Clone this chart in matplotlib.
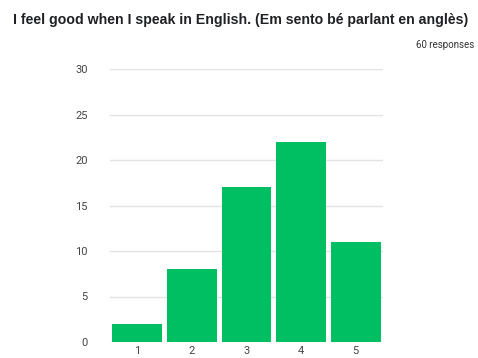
import matplotlib
matplotlib.use("Agg")
import matplotlib.pyplot as plt

categories = ["1", "2", "3", "4", "5"]
counts = [2, 8, 17, 22, 11]
yticks = [0, 5, 10, 15, 20, 25, 30]

title = "I feel good when I speak in English. (Em sento bé parlant en anglès)"
subtitle = "60 responses"

fig = plt.figure(figsize=(4.78, 3.58), dpi=100)
ax = fig.add_axes([110 / 478, 1 - 342 / 358, 273 / 478, 273 / 358])

x = list(range(1, len(categories) + 1))
ax.bar(x, counts, width=0.91, color="#00BF63", zorder=3)

ax.set_xlim(0.5, len(categories) + 0.5)
ax.set_ylim(0, 30)
ax.set_yticks(yticks)
ax.set_xticks(x)
ax.set_xticklabels(categories)
ax.grid(axis="y", color="#e3e3e3", linewidth=1, zorder=0)
for s in ax.spines.values():
    s.set_visible(False)
ax.tick_params(length=0, labelsize=8, labelcolor="#444444", pad=3)
ax.tick_params(axis="y", pad=16)
for lbl in ax.get_xticklabels() + ax.get_yticklabels():
    lbl.set_family("Roboto")

fig.text(13 / 478, 1 - 20 / 358, title, fontsize=10.2, fontweight="bold",
         family="Liberation Sans", va="center", ha="left", color="#202124")
fig.text(474 / 478, 1 - 45 / 358, subtitle, fontsize=7, family="Roboto",
         va="center", ha="right", color="#333333")

fig.savefig("out.png", dpi=100)
